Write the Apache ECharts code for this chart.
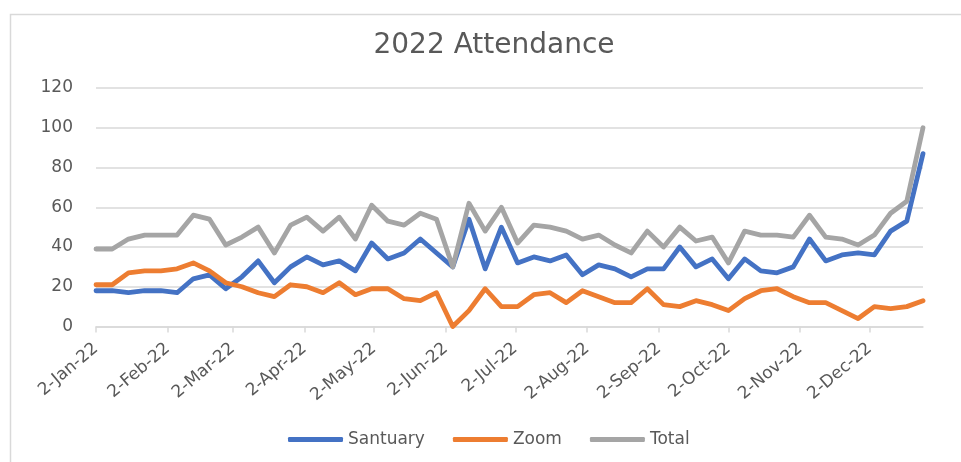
<!DOCTYPE html>
<html>
<head>
<meta charset="utf-8">
<script src="https://cdn.jsdelivr.net/npm/echarts@6/dist/echarts.min.js"></script>
<style>
html,body{margin:0;padding:0;background:#fff;}
#chart{width:961px;height:462px;}
</style>
</head>
<body>
<div id="chart"></div>
<script>
const weeks = [
  '2022-01-02','2022-01-09','2022-01-16','2022-01-23','2022-01-30',
  '2022-02-06','2022-02-13','2022-02-20','2022-02-27',
  '2022-03-06','2022-03-13','2022-03-20','2022-03-27',
  '2022-04-03','2022-04-10','2022-04-17','2022-04-24',
  '2022-05-01','2022-05-08','2022-05-15','2022-05-22','2022-05-29',
  '2022-06-05','2022-06-12','2022-06-19','2022-06-26',
  '2022-07-03','2022-07-10','2022-07-17','2022-07-24','2022-07-31',
  '2022-08-07','2022-08-14','2022-08-21','2022-08-28',
  '2022-09-04','2022-09-11','2022-09-18','2022-09-25',
  '2022-10-02','2022-10-09','2022-10-16','2022-10-23','2022-10-30',
  '2022-11-06','2022-11-13','2022-11-20','2022-11-27',
  '2022-12-04','2022-12-11','2022-12-18','2022-12-25'
];
const santuary = [
  18,18,17,18,18,17,24,26,19,25,33,22,30,35,31,33,28,42,
  34,37,44,37,30,54,29,50,32,35,33,36,26,31,29,25,29,29,
  40,30,34,24,34,28,27,30,44,33,36,37,36,48,53,87
];
const zoom = [
  21,21,27,28,28,29,32,28,22,20,17,15,21,20,17,22,16,19,
  19,14,13,17,0,8,19,10,10,16,17,12,18,15,12,12,19,11,
  10,13,11,8,14,18,19,15,12,12,8,4,10,9,10,13
];
const total = [
  39,39,44,46,46,46,56,54,41,45,50,37,51,55,48,55,44,61,
  53,51,57,54,30,62,48,60,42,51,50,48,44,46,41,37,48,40,
  50,43,45,32,48,46,46,45,56,45,44,41,46,57,63,100
];
const tickDates = [
  '2022-01-02','2022-02-02','2022-03-02','2022-04-02','2022-05-02','2022-06-02',
  '2022-07-02','2022-08-02','2022-09-02','2022-10-02','2022-11-02','2022-12-02'
];
const tickLabels = [
  '2-Jan-22','2-Feb-22','2-Mar-22','2-Apr-22','2-May-22','2-Jun-22',
  '2-Jul-22','2-Aug-22','2-Sep-22','2-Oct-22','2-Nov-22','2-Dec-22'
];
const yTicks = [0,20,40,60,80,100,120];

// day number counted from the first week (UTC to avoid DST shifts)
function dayNum(s){
  const p = s.split('-').map(Number);
  return Math.round((Date.UTC(p[0], p[1]-1, p[2]) - Date.UTC(2022,0,2)) / 86400000);
}
const tickDays = tickDates.map(dayNum);
const labelMap = {};
tickDays.forEach((d,i)=>{ labelMap[d] = tickLabels[i]; });

const FONT = 'DejaVu Sans';
const chart = echarts.init(document.getElementById('chart'));
const mk = (name, arr, color) => ({
  name, type:'line', data: weeks.map((w,i)=>[dayNum(w), arr[i]]),
  symbol:'none', smooth:false,
  lineStyle:{color, width:4.8, cap:'round', join:'round'},
  itemStyle:{color},
  emphasis:{disabled:true}
});
chart.setOption({
  animation:false,
  backgroundColor:'#ffffff',
  graphic:[{
    type:'rect', left:8, top:12, silent:true,
    shape:{x:0,y:0,width:1000,height:500},
    style:{fill:'none', stroke:'#d9d9d9', lineWidth:1.5}
  }],
  title:{
    text:'2022 Attendance', left:489, top:27, textAlign:'center',
    textStyle:{fontFamily:FONT, fontSize:28, fontWeight:'normal', color:'#595959'}
  },
  legend:{
    left:283, top:426, itemWidth:55, itemHeight:5, itemGap:28,
    icon:'roundRect',
    textStyle:{fontFamily:FONT, fontSize:17, color:'#595959'},
    data:['Santuary','Zoom','Total']
  },
  grid:{left:96, right:38, top:88, bottom:135.5, containLabel:false},
  xAxis:{
    type:'value', min:dayNum(weeks[0]), max:dayNum(weeks[weeks.length-1]),
    axisLine:{lineStyle:{color:'#d9d9d9', width:1.5}},
    axisTick:{show:true, customValues:tickDays, length:6, lineStyle:{color:'#d9d9d9', width:1.5}},
    axisLabel:{
      customValues:tickDays, rotate:40, margin:20,
      fontFamily:FONT, fontSize:17, color:'#595959',
      formatter:(v)=>labelMap[v] || ''
    },
    splitLine:{show:false}
  },
  yAxis:{
    type:'value', min:yTicks[0], max:yTicks[yTicks.length-1], interval:20,
    axisLine:{show:false}, axisTick:{show:false},
    axisLabel:{fontFamily:FONT, fontSize:17, color:'#595959', margin:23},
    splitLine:{lineStyle:{color:'#d9d9d9', width:1.5}}
  },
  series:[
    mk('Santuary', santuary, '#4472C4'),
    mk('Zoom', zoom, '#ED7D31'),
    mk('Total', total, '#A5A5A5')
  ]
});
</script>
</body>
</html>
